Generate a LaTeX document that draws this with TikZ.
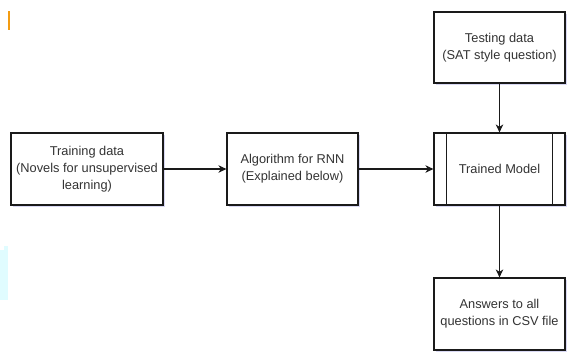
\documentclass[tikz,border=0pt]{standalone}
\usepackage{fontspec}
\setmainfont{Liberation Sans}
\usetikzlibrary{arrows.meta,shadows}
\definecolor{txtc}{HTML}{333333}
\definecolor{linec}{HTML}{1A1A1A}
\definecolor{orangec}{HTML}{F39C12}
\definecolor{cyanc}{HTML}{E0FCFF}
\begin{document}
\begin{tikzpicture}[x=1pt,y=-1pt,
  boxst/.style={draw=linec, line width=1.2pt, fill=white, inner sep=0pt,
    minimum height=72pt, align=center, text=txtc,
    font=\fontsize{12.8}{16.7}\selectfont,
    drop shadow={shadow xshift=1.6pt, shadow yshift=-1.8pt, fill=black!30!blue!25, opacity=0.6}},
  conn/.style={draw=linec, line width=1.1pt, -{Stealth[length=8pt,width=7.5pt,inset=2.5pt]}}]
\useasboundingbox (0,0) rectangle (569,351);
\fill[white] (0,0) rectangle (569,351);
% artefacts at the left edge
\fill[orangec] (8.3,11) rectangle (9.8,30);
\fill[cyanc] (0,250) rectangle (8,300);
\fill[cyanc] (4,246) rectangle (8,250);
% boxes
\node[boxst, minimum width=152pt] (train) at (87,169) {Training data\\(Novels for unsupervised\\learning)};
\node[boxst, minimum width=131pt] (algo) at (292.5,169) {Algorithm for RNN\\(Explained below)};
\node[boxst, minimum width=131pt] (model) at (499.5,169) {Trained Model};
\node[boxst, minimum width=131pt, minimum height=71pt] (test) at (499.5,47.5) {Testing data\\(SAT style question)};
\node[boxst, minimum width=131pt] (ans) at (499.5,314) {Answers to all\\questions in CSV file};
% inner bars of the trained model
\draw[draw=linec, line width=1.2pt] ([xshift=13pt]model.north west) -- ([xshift=13pt]model.south west);
\draw[draw=linec, line width=1.2pt] ([xshift=-13pt]model.north east) -- ([xshift=-13pt]model.south east);
% connectors
\draw[conn] (train) -- (algo);
\draw[conn] (algo) -- (model);
\draw[conn] (test) -- (model);
\draw[conn] (model) -- (ans);
\end{tikzpicture}
\end{document}
